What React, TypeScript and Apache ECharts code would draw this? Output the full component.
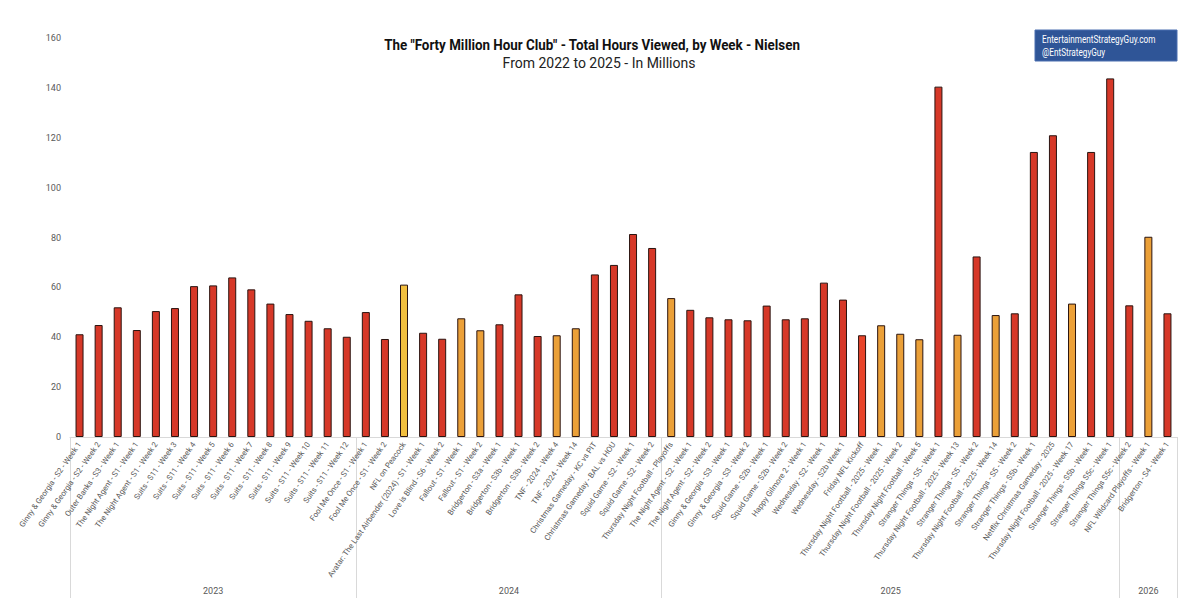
import React, { useEffect, useRef } from "react";
import * as echarts from "echarts";

const categories: string[] = [
  "Ginny & Georgia - S2 - Week 1",
  "Ginny & Georgia - S2 - Week 2",
  "Outer Banks - S3 - Week 1",
  "The Night Agent - S1 - Week 1",
  "The Night Agent - S1 - Week 2",
  "Suits - S11 - Week 3",
  "Suits - S11 - Week 4",
  "Suits - S11 - Week 5",
  "Suits - S11 - Week 6",
  "Suits - S11 - Week 7",
  "Suits - S11 - Week 8",
  "Suits - S11 - Week 9",
  "Suits - S11 - Week 10",
  "Suits - S11 - Week 11",
  "Suits - S11 - Week 12",
  "Fool Me Once - S1 - Week 1",
  "Fool Me Once - S1 - Week 2",
  "NFL on Peacock",
  "Avatar: The Last Airbender (2024) - S1 - Week 1",
  "Love is Blind - S6 - Week 2",
  "Fallout - S1 - Week 1",
  "Fallout - S1 - Week 2",
  "Bridgerton - S3a - Week 1",
  "Bridgerton - S3b - Week 1",
  "Bridgerton - S3b - Week 2",
  "TNF - 2024 - Week 4",
  "TNF - 2024 - Week 14",
  "Christmas Gameday - KC vs PIT",
  "Christmas Gameday - BAL vs HOU",
  "Squid Game - S2 - Week 1",
  "Squid Game - S2 - Week 2",
  "Thursday Night Football - Playoffs",
  "The Night Agent - S2 - Week 1",
  "The Night Agent - S2 - Week 2",
  "Ginny & Georgia - S3 - Week 1",
  "Ginny & Georgia - S3 - Week 2",
  "Squid Game - S2b - Week 1",
  "Squid Game - S2b - Week 2",
  "Happy Gilmore 2 - Week 1",
  "Wednesday - S2 - Week 1",
  "Wednesday - S2b Week 1",
  "Friday NFL Kickoff",
  "Thursday Night Football - 2025 - Week 1",
  "Thursday Night Football - 2025 - Week 2",
  "Thursday Night Football - Week 5",
  "Stranger Things - S5 - Week 1",
  "Thursday Night Football - 2025 - Week 13",
  "Stranger Things - S5 - Week 2",
  "Thursday Night Football - 2025 - Week 14",
  "Stranger Things - S5 - Week 2",
  "Stranger Things - S5b - Week 1",
  "Netflix Christmas Gameday - 2025",
  "Thursday Night Football - 2025 - Week 17",
  "Stranger Things - S5b - Week 1",
  "Stranger Things S5c - Week 1",
  "Stranger Things S5c - Week 2",
  "NFL Wildcard Playoffs - Week 1",
  "Bridgerton - S4 - Week 1",
];

const hoursViewed: number[] = [
  41.2, 44.9, 52.0, 42.9, 50.5, 51.7, 60.5, 60.8, 64.0, 59.2, 53.5, 49.3, 46.6, 43.6, 40.2,
  50.1, 39.3, 61.1, 41.8, 39.4, 47.6, 42.8, 45.2, 57.2, 40.5, 40.8, 43.6, 65.2, 69.0, 81.4, 75.8,
  55.7, 51.0, 48.0, 47.2, 46.8, 52.7, 47.2, 47.6, 61.9, 55.1, 40.8, 44.8, 41.4, 39.2, 140.5, 41.0,
  72.4, 48.9, 49.6, 114.3, 121.0, 53.5, 114.3, 143.8,
  52.8, 80.3, 49.6,
];

// content kind of each week: streaming show, NFL game, NFL on Peacock, Friday kickoff
const contentKind: string[] = [
  "show", "show", "show", "show", "show", "show", "show", "show", "show", "show", "show", "show", "show", "show", "show",
  "show", "show", "peacock", "show", "show", "nfl", "nfl", "show", "show", "show", "nfl", "nfl", "show", "show", "show", "show",
  "nfl", "show", "show", "show", "show", "show", "show", "show", "show", "show", "kickoff", "nfl", "nfl", "nfl", "show", "nfl",
  "show", "nfl", "show", "show", "show", "nfl", "show", "show",
  "show", "nfl", "show",
];

const yearLabels: string[] = ["2023", "2024", "2025", "2026"];
const yearCounts: number[] = [15, 16, 24, 3];

const yTicks: number[] = [0, 20, 40, 60, 80, 100, 120, 140, 160];

const FONT = "Roboto, 'Noto Sans', sans-serif";

const kindColor: Record<string, string> = {
  show: "#D63828",
  nfl: "#EBA038",
  peacock: "#F2BF3E",
  kickoff: "#E8442A",
};

export default function App() {
  const ref = useRef<HTMLDivElement>(null);
  useEffect(() => {
    if (!ref.current) return;
    const chart = echarts.init(ref.current, null, { renderer: "svg" });

    const bounds: number[] = [0];
    yearCounts.forEach((c) => bounds.push(bounds[bounds.length - 1] + c));
    const mids: number[] = yearCounts.map((c, i) => bounds[i] + c / 2);

    chart.setOption({
      animation: false,
      backgroundColor: "#ffffff",
      textStyle: { fontFamily: FONT },
      graphic: [
        {
          type: "text",
          x: 592,
          y: 45,
          scaleX: 0.955,
          style: {
            text: 'The "Forty Million Hour Club" - Total Hours Viewed, by Week - Nielsen',
            fill: "#111111",
            font: `bold 14px ${FONT}`,
            align: "center",
            verticalAlign: "middle",
          },
        },
        {
          type: "text",
          x: 599,
          y: 63,
          scaleX: 1.0,
          style: {
            text: "From 2022 to 2025 - In Millions",
            fill: "#222222",
            font: `14px ${FONT}`,
            align: "center",
            verticalAlign: "middle",
          },
        },
        {
          type: "rect",
          x: 1035,
          y: 30,
          shape: { x: 0, y: 0, width: 142, height: 31 },
          style: { fill: "#2F5597", stroke: "#4a6fb0", lineWidth: 1 },
        },
        {
          type: "text",
          x: 1042,
          y: 33,
          scaleX: 0.78,
          style: {
            text: "EntertainmentStrategyGuy.com\n@EntStrategyGuy",
            fill: "#ffffff",
            font: `10.5px ${FONT}`,
            lineHeight: 12.5,
          },
        },
      ],
      grid: { left: 70, right: 23, top: 38, bottom: 177, containLabel: false },
      xAxis: [
        {
          type: "category",
          data: categories,
          position: "bottom",
          axisLine: { show: true, lineStyle: { color: "#d9d9d9", width: 1 } },
          axisTick: { show: false },
          axisLabel: {
            interval: 0,
            rotate: 55,
            fontSize: 7.8,
            color: "#595959",
            margin: 6,
            fontFamily: FONT,
          },
        },
        {
          type: "value",
          min: 0,
          max: bounds[bounds.length - 1],
          position: "bottom",
          axisLine: { show: false },
          splitLine: { show: false },
          axisTick: {
            show: true,
            inside: false,
            length: 161,
            customValues: bounds,
            lineStyle: { color: "#d9d9d9", width: 1 },
          },
          axisLabel: {
            show: true,
            customValues: mids,
            margin: 149,
            fontSize: 9,
            color: "#595959",
            fontFamily: FONT,
            formatter: (v: number) => {
              let best = 0;
              mids.forEach((m, i) => {
                if (Math.abs(m - v) < Math.abs(mids[best] - v)) best = i;
              });
              return yearLabels[best];
            },
          },
        },
      ],
      yAxis: {
        type: "value",
        min: yTicks[0],
        max: yTicks[yTicks.length - 1],
        interval: 20,
        axisLine: { show: false },
        axisTick: { show: false },
        splitLine: { show: false },
        axisLabel: { fontSize: 9, color: "#595959", margin: 9, fontFamily: FONT },
      },
      series: [
        {
          type: "bar",
          xAxisIndex: 0,
          barWidth: 8,
          data: hoursViewed.map((v, i) => ({
            value: v,
            itemStyle: { color: kindColor[contentKind[i]] },
          })),
          itemStyle: { borderColor: "#2a1410", borderWidth: 1 },
        },
      ],
    });
    return () => chart.dispose();
  }, []);
  return (
    <div
      ref={ref}
      style={{ position: "absolute", left: 0, top: 0, width: 1200, height: 614, background: "#fff" }}
    />
  );
}
